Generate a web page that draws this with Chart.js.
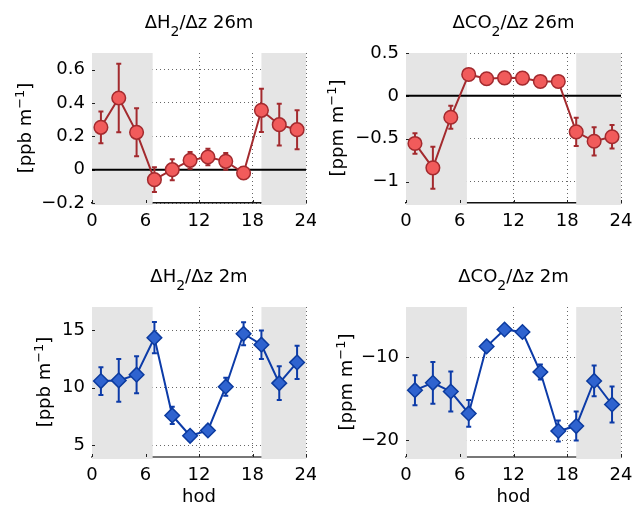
<!DOCTYPE html>
<html>
<head>
<meta charset="utf-8">
<script src="https://cdn.jsdelivr.net/npm/chart.js@4.4.0/dist/chart.umd.min.js"></script>
<style>
  body { margin: 0; background: #fff; }
  #wrap { position: relative; width: 633px; height: 508px; }
  canvas { position: absolute; }
</style>
</head>
<body>
<div id="wrap">
  <canvas id="c1" width="316" height="254" style="left:0;top:0"></canvas>
  <canvas id="c2" width="317" height="254" style="left:316px;top:0"></canvas>
  <canvas id="c3" width="316" height="254" style="left:0;top:254px"></canvas>
  <canvas id="c4" width="317" height="254" style="left:316px;top:254px"></canvas>
</div>
<script>
// data ---------------------------------------------
const hours = [1, 3, 5, 7, 9, 11, 13, 15, 17, 19, 21, 23];

const h2Upper    = [0.254, 0.43, 0.224, -0.06, 0.0, 0.056, 0.076, 0.05, -0.02, 0.356, 0.27, 0.24];
const h2UpperErr = [0.095, 0.205, 0.144, 0.074, 0.063, 0.05, 0.049, 0.05, 0.02, 0.13, 0.125, 0.117];

const co2Upper    = [-0.555, -0.84, -0.25, 0.25, 0.2, 0.21, 0.207, 0.168, 0.168, -0.42, -0.53, -0.477];
const co2UpperErr = [0.12, 0.245, 0.135, 0.03, 0.02, 0.02, 0.02, 0.02, 0.02, 0.165, 0.165, 0.136];

const h2Lower    = [10.58, 10.64, 11.13, 14.34, 7.6, 5.84, 6.3, 10.09, 14.68, 13.73, 10.4, 12.2];
const h2LowerErr = [1.2, 1.85, 1.6, 1.35, 0.75, 0.4, 0.4, 0.78, 1.0, 1.23, 1.47, 1.45];

const co2Lower    = [-13.98, -13.1, -14.14, -16.77, -8.73, -6.7, -7.0, -11.8, -18.88, -18.29, -12.87, -15.7];
const co2LowerErr = [1.8, 2.5, 2.4, 1.6, 0.4, 0.3, 0.3, 0.9, 1.25, 1.74, 1.84, 2.15];

const hourTicks = [0, 6, 12, 18, 24];
const h2UpperTicks = [-0.2, 0, 0.2, 0.4, 0.6];
const co2UpperTicks = [-1, -0.5, 0, 0.5];
const h2LowerTicks = [5, 10, 15];
const co2LowerTicks = [-20, -10];
const nightBands = [[0, 6.8], [19, 24]];

const FONT = 'DejaVu Sans';
const red = { line: '#a32a2e', fill: '#f15b5b', edge: '#a32a2e' };
const blue = { line: '#0c3ba8', fill: '#2f63cf', edge: '#0c3b9f' };

// rich text helpers (sub/superscripts) -------------
function richWidth(ctx, parts) {
  let w = 0;
  parts.forEach(p => { ctx.font = p.font; w += ctx.measureText(p.t).width; });
  return w;
}
function drawRich(ctx, parts, cx, baseY) {
  let x = cx - richWidth(ctx, parts) / 2;
  parts.forEach(p => {
    ctx.font = p.font;
    ctx.fillText(p.t, x, baseY + (p.dy || 0));
    x += ctx.measureText(p.t).width;
  });
}
const main = (t) => ({ t, font: '18px "' + FONT + '"' });
const sub = (t) => ({ t, font: '14px "' + FONT + '"', dy: 8 });
const lab = (t) => ({ t, font: '18px "' + FONT + '"' });
const sup = (t) => ({ t, font: '13px "' + FONT + '"', dy: -7 });

// panel decorations: night bands, zero line, error bars, title, y label
const panelPlugin = {
  id: 'panel',
  beforeDatasetsDraw(chart, args, o) {
    const { ctx, chartArea: a, scales: { x, y } } = chart;
    ctx.save();
    ctx.fillStyle = '#e5e5e5';
    nightBands.forEach(b => {
      const x0 = x.getPixelForValue(b[0]), x1 = x.getPixelForValue(b[1]);
      ctx.fillRect(x0, a.top, x1 - x0, a.bottom - a.top + 2);
    });
    // inward ticks
    ctx.strokeStyle = '#222';
    ctx.lineWidth = 1;
    ctx.beginPath();
    y.ticks.forEach(t => {
      const py = Math.round(y.getPixelForValue(t.value)) + 0.5;
      ctx.moveTo(a.left, py); ctx.lineTo(a.left + 3, py);
    });
    x.ticks.forEach(t => {
      const px = Math.round(x.getPixelForValue(t.value)) + 0.5;
      ctx.moveTo(px, a.bottom); ctx.lineTo(px, a.bottom - 3);
    });
    ctx.stroke();
    if (o.zero) {
      const py = y.getPixelForValue(0);
      ctx.strokeStyle = '#000';
      ctx.lineWidth = 2;
      ctx.beginPath();
      ctx.moveTo(a.left, py); ctx.lineTo(a.right, py);
      ctx.stroke();
    }
    // error bars
    const ds = chart.data.datasets[0];
    ctx.strokeStyle = o.color;
    ctx.lineWidth = 2;
    ctx.beginPath();
    ds.data.forEach((p, i) => {
      const px = x.getPixelForValue(p.x);
      const yt = y.getPixelForValue(p.y + o.err[i]);
      const yb = y.getPixelForValue(p.y - o.err[i]);
      ctx.moveTo(px, yt); ctx.lineTo(px, yb);
      ctx.moveTo(px - 2.5, yt); ctx.lineTo(px + 2.5, yt);
      ctx.moveTo(px - 2.5, yb); ctx.lineTo(px + 2.5, yb);
    });
    ctx.stroke();
    ctx.restore();
  },
  afterDraw(chart, args, o) {
    const { ctx, chartArea: a } = chart;
    ctx.save();
    ctx.fillStyle = '#000';
    ctx.textAlign = 'left';
    ctx.textBaseline = 'alphabetic';
    drawRich(ctx, o.title, (a.left + a.right) / 2, a.top - 25);
    ctx.translate(o.labelX, (a.top + a.bottom) / 2);
    ctx.rotate(-Math.PI / 2);
    drawRich(ctx, o.ylabel, 0, 5.7);
    ctx.restore();
  }
};

function makePanel(id, vals, errs, c, opt) {
  const tickFont = { family: FONT, size: 18 };
  const grid = { color: '#666', lineWidth: 1, drawTicks: false };
  return new Chart(document.getElementById(id), {
    type: 'line',
    data: {
      datasets: [{
        data: hours.map((h, i) => ({ x: h, y: vals[i] })),
        borderColor: c.line,
        borderWidth: 2,
        tension: 0,
        pointStyle: opt.marker,
        pointRadius: opt.marker === 'circle' ? 6.8 : 7.3,
        pointBackgroundColor: c.fill,
        pointBorderColor: c.edge,
        pointBorderWidth: 1.5
      }]
    },
    options: {
      responsive: false,
      animation: false,
      events: [],
      layout: { padding: { top: 53, right: opt.right, bottom: 0, left: 0 } },
      plugins: {
        legend: { display: false },
        tooltip: { enabled: false },
        panel: { err: errs, color: c.line, zero: opt.zero, title: opt.title, ylabel: opt.ylabel, labelX: opt.labelX }
      },
      scales: {
        x: {
          type: 'linear', min: 0, max: 24,
          afterBuildTicks: s => { s.ticks = hourTicks.map(v => ({ value: v })); },
          afterFit: s => { s.height = 51; s.paddingLeft = 0; s.paddingRight = 0; },
          grid: grid,
          border: { display: true, color: opt.axisColor, width: opt.axisWidth, dash: [1, 3] },
          ticks: { padding: 8, color: '#000', font: tickFont, maxRotation: 0, autoSkip: false },
          title: { display: opt.xTitle, text: 'hod', color: '#000', font: tickFont, padding: { top: 0, bottom: 0 } }
        },
        y: {
          min: opt.min, max: opt.max,
          afterBuildTicks: s => { s.ticks = opt.ticks.map(v => ({ value: v })); },
          afterFit: s => { s.width = opt.yWidth; s.paddingTop = 0; s.paddingBottom = 0; },
          grid: grid,
          border: { display: false, dash: [1, 3] },
          ticks: { padding: 7, color: '#000', font: tickFont, callback: v => String(v).replace('-', '\u2212') }
        }
      }
    },
    plugins: [panelPlugin]
  });
}

makePanel('c1', h2Upper, h2UpperErr, red, {
  marker: 'circle', min: -0.2, max: 0.7, ticks: h2UpperTicks, zero: true, xTitle: false,
  axisColor: '#111', axisWidth: 1.5, right: 10, yWidth: 92, labelX: 25,
  title: [main('\u0394H'), sub('2'), main('/\u0394z 26m')],
  ylabel: [lab('[ppb m'), sup('\u22121'), lab(']')]
});
makePanel('c2', co2Upper, co2UpperErr, red, {
  marker: 'circle', min: -1.25, max: 0.5, ticks: co2UpperTicks, zero: true, xTitle: false,
  axisColor: '#111', axisWidth: 1.5, right: 12, yWidth: 90, labelX: 21,
  title: [main('\u0394CO'), sub('2'), main('/\u0394z 26m')],
  ylabel: [lab('[ppm m'), sup('\u22121'), lab(']')]
});
makePanel('c3', h2Lower, h2LowerErr, blue, {
  marker: 'rectRot', min: 4, max: 17, ticks: h2LowerTicks, zero: false, xTitle: true,
  axisColor: '#777', axisWidth: 2, right: 10, yWidth: 92, labelX: 44,
  title: [main('\u0394H'), sub('2'), main('/\u0394z 2m')],
  ylabel: [lab('[ppb m'), sup('\u22121'), lab(']')]
});
makePanel('c4', co2Lower, co2LowerErr, blue, {
  marker: 'rectRot', min: -22, max: -4, ticks: co2LowerTicks, zero: false, xTitle: true,
  axisColor: '#777', axisWidth: 2, right: 12, yWidth: 90, labelX: 30,
  title: [main('\u0394CO'), sub('2'), main('/\u0394z 2m')],
  ylabel: [lab('[ppm m'), sup('\u22121'), lab(']')]
});
</script>
</body>
</html>
